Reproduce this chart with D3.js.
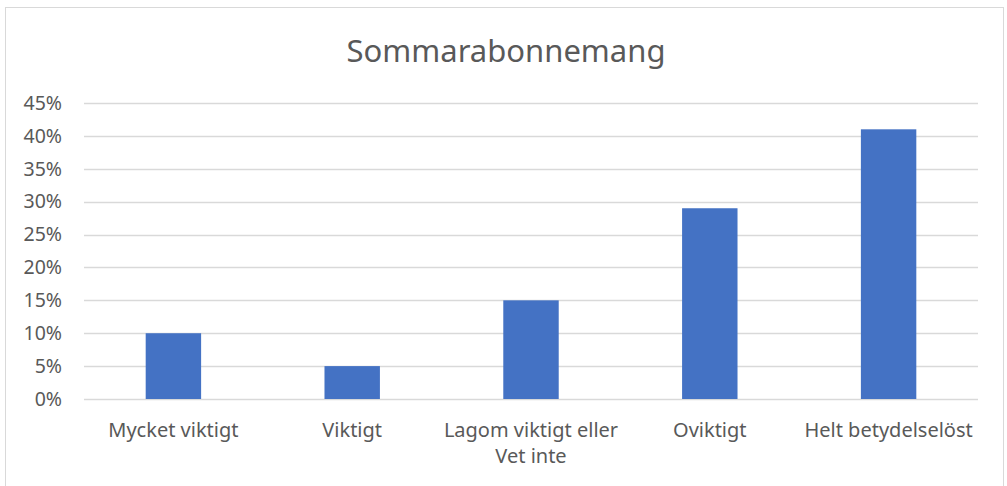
<!DOCTYPE html>
<html>
<head>
<meta charset="utf-8">
<script src="https://cdn.jsdelivr.net/npm/d3@7"></script>
<style>
  body { margin: 0; background: #fff; }
  svg { font-family: "Noto Sans", "Open Sans", sans-serif; }
</style>
</head>
<body>
<svg id="chart" width="1007" height="486"></svg>
<script>
const title = "Sommarabonnemang"
const categories = ["Mycket viktigt", "Viktigt", "Lagom viktigt eller Vet inte", "Oviktigt", "Helt betydelselöst"]
const category_lines = [["Mycket viktigt"], ["Viktigt"], ["Lagom viktigt eller", "Vet inte"], ["Oviktigt"], ["Helt betydelselöst"]]
const values = [0.10, 0.05, 0.15, 0.29, 0.41]
const y_ticks = [0, 0.05, 0.10, 0.15, 0.20, 0.25, 0.30, 0.35, 0.40, 0.45]

const marginLeft = 84
const marginRight = 29
const marginTop = 103
const plotBottom = 399

const svg = d3.select("#chart")

// outer chart border
svg.append("rect")
  .attr("x", 5.5).attr("y", 7.5)
  .attr("width", 998).attr("height", 490)
  .attr("fill", "none")
  .attr("stroke", "#d9d9d9")
  .attr("stroke-width", 1)

const x = d3.scaleBand()
  .domain(categories)
  .range([marginLeft, 1007 - marginRight])
  .padding(0)

const y = d3.scaleLinear()
  .domain([0, 0.45])
  .range([plotBottom, marginTop])

// gridlines
svg.append("g")
  .selectAll("line")
  .data(y_ticks)
  .enter()
  .append("line")
  .attr("x1", marginLeft)
  .attr("x2", 1007 - marginRight)
  .attr("y1", d => Math.round(y(d)) + 0.5)
  .attr("y2", d => Math.round(y(d)) + 0.5)
  .attr("stroke", "#d9d9d9")
  .attr("stroke-width", 1.3)

// y axis labels
svg.append("g")
  .selectAll("text")
  .data(y_ticks)
  .enter()
  .append("text")
  .attr("x", 62)
  .attr("y", d => y(d))
  .attr("dy", "0.35em")
  .attr("text-anchor", "end")
  .attr("fill", "#595959")
  .attr("font-size", 19.5)
  .text(d => d3.format(".0%")(d))

// bars
const bar_w = x.bandwidth() * 0.31
svg.append("g")
  .selectAll("rect")
  .data(values)
  .enter()
  .append("rect")
  .attr("x", (d, i) => x(categories[i]) + x.bandwidth() / 2 - bar_w / 2)
  .attr("y", d => y(d))
  .attr("width", bar_w)
  .attr("height", d => plotBottom - y(d))
  .attr("fill", "#4472c4")

// category labels
const labels = svg.append("g")
  .selectAll("text")
  .data(categories)
  .enter()
  .append("text")
  .attr("text-anchor", "middle")
  .attr("fill", "#595959")
  .attr("font-size", 20)

labels.each(function(d, i){
  const t = d3.select(this)
  category_lines[i].forEach((line, j) => {
    t.append("tspan")
      .attr("x", x(d) + x.bandwidth() / 2)
      .attr("y", 437 + j * 26)
      .text(line)
  })
})

// title
svg.append("text")
  .attr("x", 506)
  .attr("y", 62)
  .attr("text-anchor", "middle")
  .attr("fill", "#595959")
  .attr("font-size", 31)
  .text(title)
</script>
</body>
</html>
